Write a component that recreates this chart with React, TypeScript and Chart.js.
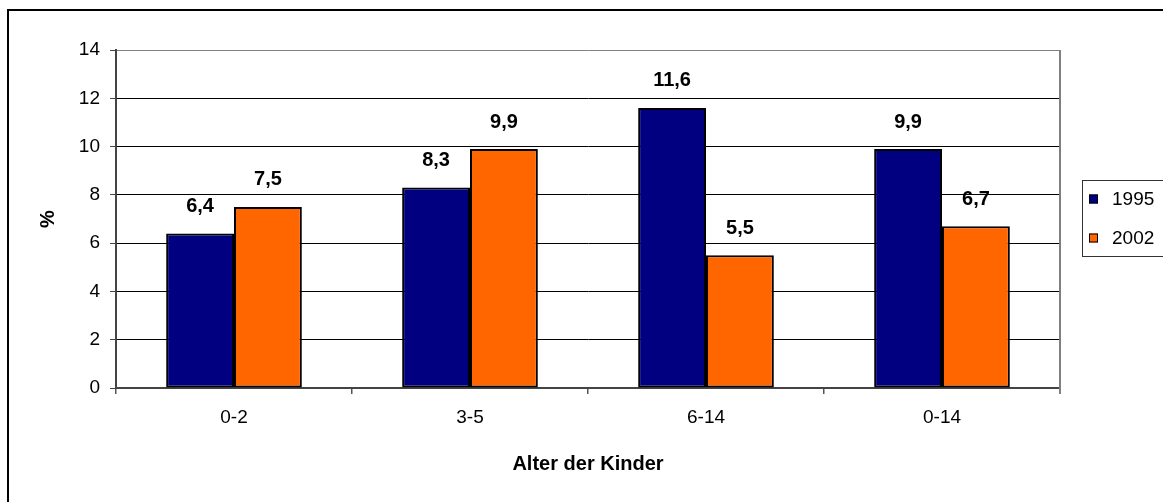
import React, { useEffect, useRef } from "react";
import { Chart, registerables } from "chart.js";

Chart.register(...registerables);

const categories = ["0-2", "3-5", "6-14", "0-14"];
const series1995 = [6.4, 8.3, 11.6, 9.9];
const series2002 = [7.5, 9.9, 5.5, 6.7];
const seriesLabels = ["1995", "2002"];
const yTicks = [0, 2, 4, 6, 8, 10, 12, 14];

const FONT = 'Arial, "Liberation Sans", sans-serif';

const valueLabels = {
  id: "valueLabels",
  afterDatasetsDraw(chart: any) {
    const ctx = chart.ctx;
    ctx.save();
    ctx.font = `bold 20px ${FONT}`;
    ctx.fillStyle = "#000";
    ctx.textAlign = "center";
    ctx.textBaseline = "middle";
    chart.data.datasets.forEach((ds: any, i: number) => {
      const meta = chart.getDatasetMeta(i);
      meta.data.forEach((bar: any, j: number) => {
        const v = ds.data[j];
        ctx.fillText(String(v).replace(".", ","), bar.x, bar.y - 27);
      });
    });
    ctx.restore();
  },
};

const plotFrame = {
  id: "plotFrame",
  afterDraw(chart: any) {
    const { ctx, chartArea } = chart;
    ctx.save();
    ctx.strokeStyle = "#808080";
    ctx.lineWidth = 2;
    ctx.beginPath();
    ctx.moveTo(chartArea.right, chartArea.top);
    ctx.lineTo(chartArea.right, chartArea.bottom + 6);
    ctx.stroke();
    ctx.restore();
  },
};

const customLegend = {
  id: "customLegend",
  afterDraw(chart: any) {
    const ctx = chart.ctx;
    ctx.save();
    ctx.strokeStyle = "#333";
    ctx.lineWidth = 1;
    ctx.strokeRect(1073.5, 169.5, 100, 76);
    ctx.font = `19px ${FONT}`;
    ctx.textAlign = "left";
    ctx.textBaseline = "middle";
    chart.data.datasets.forEach((ds: any, i: number) => {
      const cy = 188 + i * 39;
      ctx.fillStyle = ds.backgroundColor;
      ctx.fillRect(1080, cy - 4.5, 9, 9);
      ctx.strokeStyle = "#000";
      ctx.lineWidth = 1;
      ctx.strokeRect(1080.5, cy - 4, 8, 8);
      ctx.fillStyle = "#000";
      ctx.fillText(ds.label, 1103, cy + 1);
    });
    ctx.restore();
  },
};

export default function App() {
  const ref = useRef<HTMLCanvasElement>(null);
  useEffect(() => {
    if (!ref.current) return;
    const chart = new Chart(ref.current, {
      type: "bar",
      data: {
        labels: categories,
        datasets: [
          {
            label: seriesLabels[0],
            data: series1995,
            backgroundColor: "#000080",
            borderColor: "#000",
            borderWidth: 2,
            borderSkipped: false,
          },
          {
            label: seriesLabels[1],
            data: series2002,
            backgroundColor: "#FF6600",
            borderColor: "#000",
            borderWidth: 2,
            borderSkipped: false,
          },
        ],
      },
      options: {
        animation: false,
        responsive: false,
        maintainAspectRatio: false,
        datasets: { bar: { categoryPercentage: 0.575, barPercentage: 1 } },
        layout: { padding: { top: 39, right: 103, bottom: 0, left: 0 } },
        plugins: { legend: { display: false }, tooltip: { enabled: false } },
        scales: {
          x: {
            afterFit: (s: any) => {
              s.height = 114;
            },
            grid: {
              drawOnChartArea: false,
              offset: true,
              tickLength: 6,
              tickColor: "#555",
              lineWidth: 1.5,
            },
            border: { color: "#444", width: 2 },
            ticks: { font: { family: FONT, size: 19 }, color: "#000", padding: 12 },
            title: {
              display: true,
              text: "Alter der Kinder",
              font: { family: FONT, size: 20, weight: "bold" },
              color: "#000",
              padding: { top: 0, bottom: 26 },
            },
          },
          y: {
            min: 0,
            max: 14,
            afterFit: (s: any) => {
              s.width = 107;
            },
            afterBuildTicks: (s: any) => {
              s.ticks = yTicks.map((v) => ({ value: v }));
            },
            grid: {
              color: (c: any) => (c.tick && c.tick.value === 14 ? "#808080" : "#000"),
              tickColor: "#444",
              tickLength: 6,
              lineWidth: 1,
            },
            border: { color: "#444", width: 2 },
            ticks: { font: { family: FONT, size: 19 }, color: "#000", padding: 10 },
            title: {
              display: true,
              text: "%",
              font: { family: FONT, size: 20, weight: "bold" },
              color: "#000",
              padding: { top: 27, bottom: 0 },
            },
          },
        },
      },
      plugins: [valueLabels, plotFrame, customLegend],
    });
    return () => chart.destroy();
  }, []);

  return (
    <div
      style={{
        position: "absolute",
        left: 7,
        top: 9,
        width: 1156,
        height: 493,
        boxSizing: "border-box",
        borderTop: "2px solid #000",
        borderLeft: "2px solid #000",
        background: "#fff",
        overflow: "hidden",
      }}
    >
      <canvas ref={ref} width={1154} height={491} style={{ display: "block" }} />
    </div>
  );
}
